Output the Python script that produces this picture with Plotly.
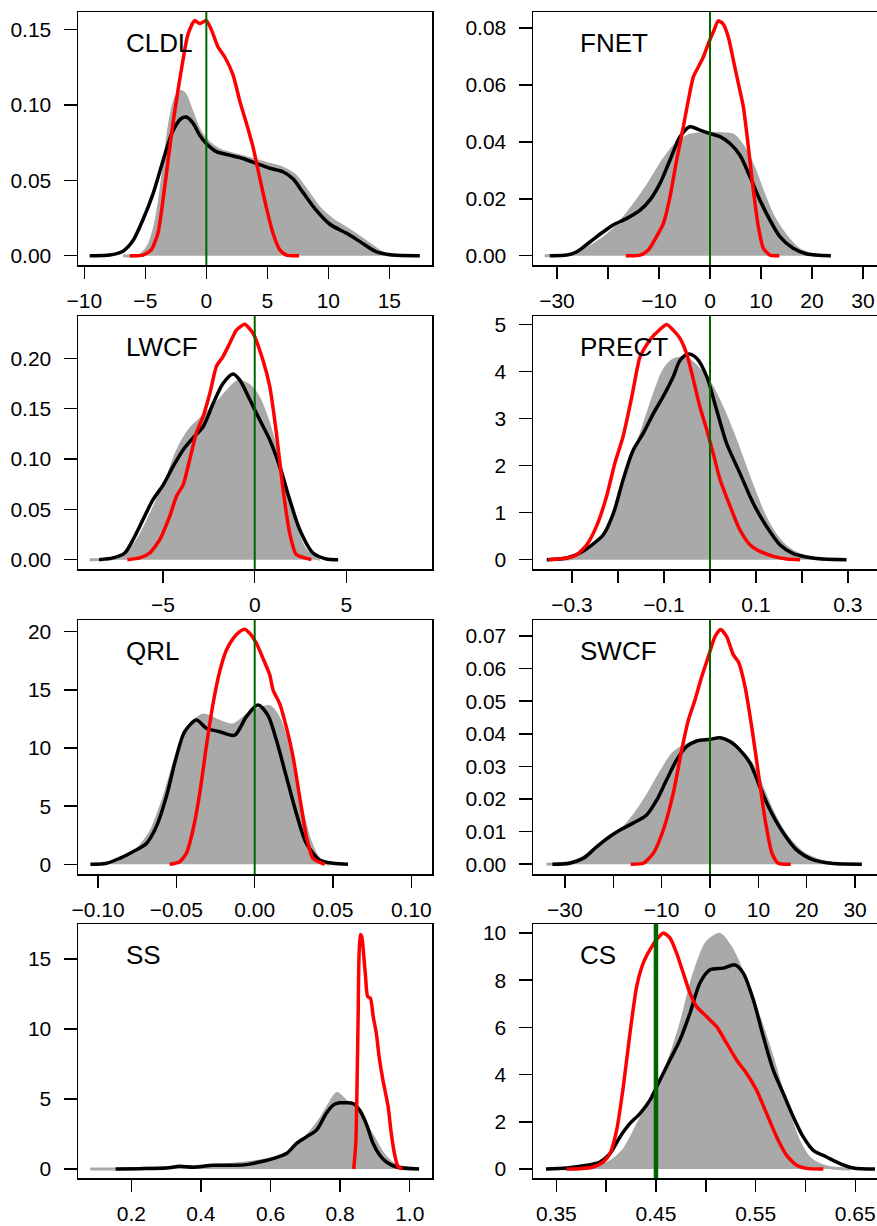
import plotly.graph_objects as go

# ---------------- data ----------------
panel_names = ["CLDL", "FNET", "LWCF", "PRECT", "QRL", "SWCF", "SS", "CS"]
ref_values = [0, 0, 0, 0, 0, 0, None, 0.45]

# CLDL
cldl_grey_x = [-6.83, -5.46, -4.78, -4.23, -3.83, -3.42, -3.0, -2.60, -2.19, -1.78, -1.23, -0.55, 0, 1.09, 2.19, 3.55, 4.92, 6.28, 7.24, 8.2, 9.29, 10.4, 11.7, 13.1, 14.5, 15.3]
cldl_grey_y = [0, 0.0004, 0.006, 0.019, 0.037, 0.063, 0.088, 0.103, 0.109, 0.1075, 0.0965, 0.083, 0.0767, 0.070, 0.0674, 0.0645, 0.0612, 0.058, 0.0535, 0.0435, 0.0314, 0.0236, 0.017, 0.0093, 0.0015, 0]
cldl_black_x = [-9.56, -7.92, -6.83, -6.01, -5.19, -4.37, -3.55, -2.73, -2.05, -1.64, -1.09, -0.55, 0, 0.82, 1.91, 3.0, 4.10, 5.19, 6.28, 7.10, 7.92, 9.02, 10.1, 11.5, 12.6, 13.9, 15.3, 17.5]
cldl_black_y = [0, 0.0004, 0.003, 0.010, 0.024, 0.041, 0.063, 0.083, 0.091, 0.092, 0.088, 0.080, 0.0744, 0.069, 0.0667, 0.0645, 0.0612, 0.058, 0.0557, 0.051, 0.042, 0.030, 0.021, 0.0148, 0.0093, 0.0027, 0.0004, 0]
cldl_red_x = [-6.28, -5.19, -4.5, -3.96, -3.55, -3.14, -2.73, -2.32, -1.91, -1.50, -0.96, -0.55, 0, 0.41, 0.96, 1.5, 2.19, 2.73, 3.28, 3.83, 4.37, 4.92, 5.46, 6.01, 6.56, 7.6]
cldl_red_y = [0, 0.0004, 0.004, 0.015, 0.037, 0.063, 0.088, 0.110, 0.130, 0.147, 0.156, 0.154, 0.156, 0.150, 0.1385, 0.132, 0.120, 0.103, 0.088, 0.072, 0.052, 0.032, 0.015, 0.004, 0.0004, 0]

# FNET
fnet_grey_x = [-32.4, -26.8, -22.9, -19.0, -15.7, -12.4, -9.15, -6.54, -3.92, -1.31, 1.96, 4.58, 6.54, 8.5, 10.46, 12.4, 15.0, 17.6, 20.9]
fnet_grey_y = [0, 0.0008, 0.0037, 0.009, 0.016, 0.0242, 0.0336, 0.0394, 0.0423, 0.0429, 0.0429, 0.0423, 0.0382, 0.0312, 0.0219, 0.0137, 0.0067, 0.002, 0]
fnet_black_x = [-31.4, -28.1, -26.1, -23.5, -20.9, -19.0, -16.3, -13.7, -11.8, -9.8, -7.84, -5.88, -3.92, -1.96, 0, 1.96, 3.92, 5.88, 7.84, 9.80, 11.76, 13.7, 16.3, 19.0, 23.7]
fnet_black_y = [0, 0.0002, 0.0014, 0.0049, 0.0084, 0.0108, 0.0131, 0.016, 0.0195, 0.0254, 0.0336, 0.0418, 0.0453, 0.0441, 0.0429, 0.0418, 0.0394, 0.0353, 0.0277, 0.0195, 0.0125, 0.0067, 0.0026, 0.0006, 0]
fnet_red_x = [-16.5, -13.7, -12.1, -10.5, -9.15, -7.84, -6.54, -5.23, -4.25, -3.27, -2.29, -1.31, -0.33, 0.65, 1.63, 2.61, 3.59, 4.58, 5.56, 6.54, 7.52, 8.50, 9.48, 10.46, 11.76, 13.6]
fnet_red_y = [0, 0.0002, 0.002, 0.0067, 0.0113, 0.0207, 0.0336, 0.0453, 0.0546, 0.0628, 0.0663, 0.0698, 0.0745, 0.0786, 0.0825, 0.0813, 0.0768, 0.0687, 0.0605, 0.0523, 0.0382, 0.0230, 0.0102, 0.0026, 0.0002, 0]

# LWCF
lwcf_grey_x = [-9.0, -7.73, -7.0, -6.27, -5.55, -4.82, -4.27, -3.55, -2.82, -2.09, -1.36, -0.91, -0.36, 0.18, 0.64, 1.18, 1.73, 2.27, 2.82, 3.55]
lwcf_grey_y = [0, 0.001, 0.005, 0.023, 0.0496, 0.079, 0.106, 0.129, 0.142, 0.155, 0.170, 0.177, 0.1736, 0.162, 0.142, 0.109, 0.0694, 0.0298, 0.0083, 0]
lwcf_black_x = [-8.49, -7.73, -7.09, -6.64, -6.09, -5.55, -5.0, -4.45, -3.91, -3.36, -2.82, -2.27, -1.73, -1.18, -0.82, -0.27, 0.27, 0.82, 1.36, 1.91, 2.45, 3.18, 3.91, 4.55]
lwcf_black_y = [0, 0.0017, 0.0066, 0.0198, 0.040, 0.0595, 0.074, 0.0926, 0.109, 0.121, 0.132, 0.155, 0.175, 0.1845, 0.1785, 0.159, 0.139, 0.119, 0.0926, 0.0595, 0.030, 0.0066, 0.0007, 0]
lwcf_red_x = [-6.95, -6.27, -5.73, -5.18, -4.64, -4.27, -3.91, -3.55, -3.18, -2.82, -2.45, -2.09, -1.73, -1.36, -1.0, -0.55, -0.09, 0.45, 0.82, 1.18, 1.55, 1.91, 2.27, 3.09]
lwcf_red_y = [0, 0.0017, 0.0066, 0.0198, 0.043, 0.063, 0.074, 0.099, 0.126, 0.142, 0.165, 0.192, 0.2017, 0.215, 0.228, 0.2337, 0.2248, 0.198, 0.172, 0.126, 0.069, 0.026, 0.005, 0]

# PRECT
prect_grey_x = [-0.348, -0.297, -0.261, -0.225, -0.189, -0.152, -0.123, -0.102, -0.080, -0.051, -0.029, 0.0, 0.029, 0.058, 0.087, 0.116, 0.145, 0.174, 0.210, 0.247]
prect_grey_y = [0, 0.035, 0.212, 0.636, 1.556, 2.617, 3.465, 3.996, 4.243, 4.28, 4.10, 3.75, 3.18, 2.475, 1.70, 0.99, 0.495, 0.212, 0.057, 0]
prect_black_x = [-0.355, -0.312, -0.283, -0.261, -0.232, -0.210, -0.189, -0.167, -0.145, -0.123, -0.102, -0.080, -0.065, -0.047, -0.029, -0.007, 0.0145, 0.036, 0.065, 0.094, 0.123, 0.152, 0.181, 0.210, 0.247, 0.297]
prect_black_y = [0, 0.035, 0.141, 0.283, 0.530, 0.99, 1.70, 2.33, 2.69, 3.11, 3.465, 3.89, 4.24, 4.37, 4.28, 3.89, 3.18, 2.475, 1.84, 1.20, 0.707, 0.318, 0.127, 0.057, 0.014, 0]
prect_red_x = [-0.352, -0.312, -0.290, -0.268, -0.247, -0.225, -0.207, -0.189, -0.170, -0.152, -0.131, -0.109, -0.094, -0.080, -0.065, -0.051, -0.036, -0.022, -0.007, 0.007, 0.022, 0.044, 0.065, 0.087, 0.109, 0.138, 0.167, 0.196]
prect_red_y = [0, 0.035, 0.106, 0.318, 0.707, 1.344, 2.051, 2.617, 3.465, 4.314, 4.668, 4.894, 5.0, 4.88, 4.70, 4.385, 3.82, 3.25, 2.76, 2.26, 1.70, 1.13, 0.636, 0.318, 0.177, 0.071, 0.014, 0]

# QRL
qrl_grey_x = [-0.1032, -0.0904, -0.0777, -0.067, -0.0585, -0.05, -0.0415, -0.033, -0.0245, -0.0138, -0.0032, 0.0096, 0.016, 0.0223, 0.0287, 0.0351, 0.0415, 0.0479]
qrl_grey_y = [0, 0.23, 0.95, 2.66, 5.53, 9.25, 11.83, 12.84, 12.4, 11.98, 12.98, 13.55, 12.4, 9.54, 5.53, 2.09, 0.37, 0]
qrl_black_x = [-0.1049, -0.0947, -0.0862, -0.0777, -0.0691, -0.0628, -0.0564, -0.05, -0.0447, -0.0372, -0.0309, -0.0223, -0.0128, -0.0053, 0.0021, 0.0085, 0.0138, 0.0202, 0.0266, 0.033, 0.0415, 0.05, 0.0596]
qrl_black_y = [0, 0.086, 0.52, 1.09, 1.8, 3.24, 5.82, 9.25, 11.4, 12.4, 11.7, 11.4, 11.1, 12.7, 13.7, 12.8, 10.7, 7.54, 4.38, 1.8, 0.37, 0.086, 0]
qrl_red_x = [-0.0543, -0.0479, -0.0436, -0.0394, -0.0351, -0.0309, -0.0266, -0.0223, -0.0181, -0.0138, -0.0096, -0.0064, -0.0032, 0.0011, 0.0053, 0.0096, 0.0117, 0.016, 0.0202, 0.0245, 0.0287, 0.033, 0.0372, 0.0447]
qrl_red_y = [0, 0.23, 0.95, 2.95, 6.1, 10.1, 13.8, 16.6, 18.4, 19.4, 20.0, 20.2, 19.86, 19.0, 17.7, 16.3, 15.0, 13.8, 11.8, 9.25, 5.8, 2.38, 0.52, 0]

# SWCF
swcf_grey_x = [-33.8, -28.3, -23.4, -19.3, -15.9, -13.1, -10.3, -7.59, -4.83, -2.07, 0.69, 2.76, 4.83, 6.9, 8.97, 11.0, 13.1, 15.9, 19.3, 23.4, 26.9]
swcf_grey_y = [0, 0.0008, 0.0044, 0.009, 0.0146, 0.0207, 0.0279, 0.034, 0.0366, 0.0373, 0.0376, 0.0378, 0.0366, 0.034, 0.0299, 0.0228, 0.0156, 0.0085, 0.0034, 0.0008, 0]
swcf_black_x = [-32.6, -29.0, -26.2, -23.4, -20.7, -18.6, -15.9, -13.1, -11.0, -8.97, -6.9, -4.83, -2.76, 0, 2.07, 4.14, 6.2, 8.28, 10.3, 12.4, 15.2, 17.9, 21.4, 25.5, 31.4]
swcf_black_y = [0, 0.0003, 0.0018, 0.0054, 0.0085, 0.0105, 0.0126, 0.0151, 0.0197, 0.0259, 0.032, 0.0361, 0.0378, 0.0383, 0.0388, 0.0376, 0.035, 0.031, 0.0238, 0.0167, 0.0095, 0.0044, 0.0013, 0.0002, 0]
swcf_red_x = [-16.4, -13.8, -11.7, -9.66, -7.59, -5.86, -4.48, -3.10, -1.72, -0.34, 1.03, 2.2, 3.45, 4.83, 5.86, 7.24, 8.62, 10.0, 11.4, 12.8, 14.1, 16.7]
swcf_red_y = [0, 0.0003, 0.0034, 0.0105, 0.0218, 0.035, 0.0442, 0.0504, 0.0575, 0.0637, 0.0698, 0.072, 0.0698, 0.0642, 0.0621, 0.0545, 0.0422, 0.0279, 0.0136, 0.0034, 0.0003, 0]

# SS
ss_grey_x = [0.082, 0.205, 0.301, 0.396, 0.492, 0.569, 0.626, 0.665, 0.703, 0.741, 0.770, 0.791, 0.813, 0.837, 0.866, 0.895, 0.923, 0.952, 0.990]
ss_grey_y = [0, 0.02, 0.1, 0.19, 0.33, 0.57, 0.9, 1.45, 2.29, 3.48, 4.67, 5.39, 4.91, 4.44, 3.48, 2.29, 1.1, 0.38, 0]
ss_black_x = [0.155, 0.224, 0.301, 0.339, 0.377, 0.435, 0.492, 0.531, 0.569, 0.607, 0.646, 0.674, 0.703, 0.732, 0.760, 0.780, 0.799, 0.818, 0.837, 0.856, 0.875, 0.895, 0.914, 0.933, 0.962, 1.027]
ss_black_y = [0, 0.024, 0.07, 0.19, 0.12, 0.26, 0.26, 0.31, 0.5, 0.74, 1.1, 1.81, 2.29, 2.77, 3.96, 4.56, 4.72, 4.72, 4.67, 4.2, 3.24, 1.81, 0.98, 0.5, 0.14, 0]
ss_red_x = [0.839, 0.845, 0.849, 0.852, 0.854, 0.858, 0.862, 0.868, 0.873, 0.879, 0.887, 0.895, 0.904, 0.912, 0.923, 0.938, 0.947, 0.957, 0.966, 0.979]
ss_red_y = [0, 1.81, 6.58, 11.35, 14.93, 16.72, 16.6, 15.17, 13.74, 12.3, 12.19, 10.88, 9.68, 8.01, 6.34, 4.44, 2.53, 0.98, 0.19, 0]

# CS
cs_grey_x = [0.357, 0.3838, 0.4005, 0.4172, 0.4339, 0.4473, 0.4607, 0.4741, 0.4875, 0.5008, 0.5142, 0.5243, 0.5343, 0.5443, 0.5543, 0.5644, 0.5744, 0.5844, 0.5945, 0.6045, 0.6212, 0.6447]
cs_grey_y = [0, 0.057, 0.23, 0.79, 2.07, 3.06, 4.33, 6.03, 8.16, 9.58, 9.94, 9.43, 8.58, 7.45, 6.32, 5.04, 3.63, 2.21, 1.08, 0.44, 0.085, 0]
cs_black_x = [0.3396, 0.3604, 0.3804, 0.3938, 0.4038, 0.4139, 0.4239, 0.4339, 0.4440, 0.4540, 0.4640, 0.4741, 0.4841, 0.4941, 0.5042, 0.5176, 0.5293, 0.5376, 0.5477, 0.5577, 0.5677, 0.5778, 0.5878, 0.5978, 0.6079, 0.6212, 0.6346, 0.6480, 0.6697]
cs_black_y = [0, 0.042, 0.16, 0.30, 0.65, 1.36, 1.93, 2.35, 2.92, 3.77, 4.62, 5.47, 6.60, 7.88, 8.44, 8.51, 8.65, 8.30, 7.17, 5.61, 4.19, 3.20, 2.21, 1.36, 0.79, 0.51, 0.23, 0.042, 0]
cs_red_x = [0.3604, 0.3737, 0.3871, 0.3972, 0.4038, 0.4105, 0.4172, 0.4239, 0.4306, 0.4373, 0.4440, 0.4507, 0.4574, 0.4640, 0.4707, 0.4774, 0.4841, 0.4908, 0.5008, 0.5109, 0.5209, 0.5309, 0.5410, 0.5510, 0.5610, 0.5711, 0.5811, 0.5911, 0.6012, 0.6179]
cs_red_y = [0, 0.014, 0.085, 0.30, 0.65, 1.64, 3.48, 5.75, 7.73, 8.73, 9.29, 9.72, 10.0, 9.79, 9.15, 8.30, 7.45, 6.88, 6.46, 6.03, 5.33, 4.62, 4.05, 3.34, 2.35, 1.36, 0.58, 0.16, 0.028, 0]

# tick values / labels
cldl_xt = [-10, -5, 0, 5, 10, 15]
cldl_xl = ["−10", "−5", "0", "5", "10", "15"]
cldl_yt = [0, 0.05, 0.10, 0.15]
cldl_yl = ["0.00", "0.05", "0.10", "0.15"]
fnet_xt = [-30, -20, -10, 0, 10, 20, 30]
fnet_xl = ["−30", "", "−10", "0", "10", "20", "30"]
fnet_yt = [0, 0.02, 0.04, 0.06, 0.08]
fnet_yl = ["0.00", "0.02", "0.04", "0.06", "0.08"]
lwcf_xt = [-5, 0, 5]
lwcf_xl = ["−5", "0", "5"]
lwcf_yt = [0, 0.05, 0.10, 0.15, 0.20]
lwcf_yl = ["0.00", "0.05", "0.10", "0.15", "0.20"]
prect_xt = [-0.3, -0.2, -0.1, 0, 0.1, 0.2, 0.3]
prect_xl = ["−0.3", "", "−0.1", "", "0.1", "", "0.3"]
prect_yt = [0, 1, 2, 3, 4, 5]
prect_yl = ["0", "1", "2", "3", "4", "5"]
qrl_xt = [-0.10, -0.05, 0, 0.05, 0.10]
qrl_xl = ["−0.10", "−0.05", "0.00", "0.05", "0.10"]
qrl_yt = [0, 5, 10, 15, 20]
qrl_yl = ["0", "5", "10", "15", "20"]
swcf_xt = [-30, -20, -10, 0, 10, 20, 30]
swcf_xl = ["−30", "", "−10", "0", "10", "20", "30"]
swcf_yt = [0, 0.01, 0.02, 0.03, 0.04, 0.05, 0.06, 0.07]
swcf_yl = ["0.00", "0.01", "0.02", "0.03", "0.04", "0.05", "0.06", "0.07"]
ss_xt = [0.2, 0.4, 0.6, 0.8, 1.0]
ss_xl = ["0.2", "0.4", "0.6", "0.8", "1.0"]
ss_yt = [0, 5, 10, 15]
ss_yl = ["0", "5", "10", "15"]
cs_xt = [0.35, 0.40, 0.45, 0.50, 0.55, 0.60, 0.65]
cs_xl = ["0.35", "", "0.45", "", "0.55", "", "0.65"]
cs_yt = [0, 2, 4, 6, 8, 10]
cs_yl = ["0", "2", "4", "6", "8", "10"]

# ---------------- assemble ----------------
series = [
    (cldl_grey_x, cldl_grey_y, cldl_black_x, cldl_black_y, cldl_red_x, cldl_red_y),
    (fnet_grey_x, fnet_grey_y, fnet_black_x, fnet_black_y, fnet_red_x, fnet_red_y),
    (lwcf_grey_x, lwcf_grey_y, lwcf_black_x, lwcf_black_y, lwcf_red_x, lwcf_red_y),
    (prect_grey_x, prect_grey_y, prect_black_x, prect_black_y, prect_red_x, prect_red_y),
    (qrl_grey_x, qrl_grey_y, qrl_black_x, qrl_black_y, qrl_red_x, qrl_red_y),
    (swcf_grey_x, swcf_grey_y, swcf_black_x, swcf_black_y, swcf_red_x, swcf_red_y),
    (ss_grey_x, ss_grey_y, ss_black_x, ss_black_y, ss_red_x, ss_red_y),
    (cs_grey_x, cs_grey_y, cs_black_x, cs_black_y, cs_red_x, cs_red_y),
]
ticks = [
    (cldl_xt, cldl_xl, cldl_yt, cldl_yl),
    (fnet_xt, fnet_xl, fnet_yt, fnet_yl),
    (lwcf_xt, lwcf_xl, lwcf_yt, lwcf_yl),
    (prect_xt, prect_xl, prect_yt, prect_yl),
    (qrl_xt, qrl_xl, qrl_yt, qrl_yl),
    (swcf_xt, swcf_xl, swcf_yt, swcf_yl),
    (ss_xt, ss_xl, ss_yt, ss_yl),
    (cs_xt, cs_xl, cs_yt, cs_yl),
]

# axis ranges (R-style plot regions; right column cut by page edge)
x_ranges = [[-10.52, 18.5], [-34.7, 32.74], [-9.64, 9.67], [-0.385, 0.3633],
            [-0.1128, 0.1132], [-36.6, 34.53], [0.0467, 1.064], [0.3266, 0.6718]]
y_ranges = [[-0.0062, 0.1617], [-0.00327, 0.0856], [-0.0093, 0.242], [-0.198, 5.18],
            [-0.83, 21.0], [-0.003, 0.0749], [-0.644, 17.48], [-0.38, 10.38]]

W, H = 877, 1226
col_dom = [[78 / W, 432 / W], [533 / W, 1.0]]
row_px = [(12, 265), (316, 569), (620, 874), (924, 1178)]
row_dom = [[1 - b / H, 1 - t / H] for t, b in row_px]

FONT = "Liberation Sans, Arial, Helvetica, sans-serif"
GREY = "#A9A9A9"

fig = go.Figure()
layout = dict(
    width=W, height=H, margin=dict(l=0, r=0, t=0, b=0, autoexpand=False),
    paper_bgcolor="white", plot_bgcolor="white", showlegend=False,
    font=dict(family=FONT, color="black"),
)
shapes = []
annotations = []
for i, name in enumerate(panel_names):
    r, c = divmod(i, 2)
    k = "" if i == 0 else str(i + 1)
    xa, ya = "x" + k, "y" + k
    gx, gy, bx, by, rx, ry = series[i]
    fig.add_trace(go.Scatter(x=gx, y=gy, mode="lines", fill="tozeroy", fillcolor=GREY,
                             line=dict(color=GREY, width=3, shape="spline", smoothing=0.8),
                             xaxis=xa, yaxis=ya, hoverinfo="skip"))
    fig.add_trace(go.Scatter(x=bx, y=by, mode="lines",
                             line=dict(color="black", width=3.5, shape="spline", smoothing=0.8),
                             xaxis=xa, yaxis=ya))
    fig.add_trace(go.Scatter(x=rx, y=ry, mode="lines",
                             line=dict(color="#FF0000", width=3.5, shape="spline", smoothing=0.6),
                             xaxis=xa, yaxis=ya))
    xt, xl, yt, yl = ticks[i]
    layout["xaxis" + k] = dict(
        domain=col_dom[c], anchor=ya, range=x_ranges[i], tickvals=xt, ticktext=xl,
        ticks="outside", ticklen=12, tickwidth=1.5, tickcolor="black",
        showline=True, linecolor="black", linewidth=1.5, mirror=True,
        showgrid=False, zeroline=False, ticklabelstandoff=4, automargin=False,
        tickfont=dict(size=21, family=FONT, color="black"), fixedrange=True)
    layout["yaxis" + k] = dict(
        domain=row_dom[r], anchor=xa, range=y_ranges[i], tickvals=yt, ticktext=yl,
        ticks="outside", ticklen=13, tickwidth=1.5, tickcolor="black",
        showline=True, linecolor="black", linewidth=1.5, mirror=(c == 0),
        showgrid=False, zeroline=False, ticklabelstandoff=8, automargin=False,
        tickfont=dict(size=21, family=FONT, color="black"), fixedrange=True)
    if ref_values[i] is not None:
        shapes.append(dict(type="line", xref=xa, yref=ya + " domain", x0=ref_values[i], x1=ref_values[i],
                           y0=0, y1=1, line=dict(color="#006400", width=4.5 if name == "CS" else 2),
                           layer="above"))
    annotations.append(dict(text=name, xref=xa + " domain", yref=ya + " domain",
                            x=46 / 354, y=1 - 31 / 253, xanchor="left", yanchor="middle",
                            showarrow=False, font=dict(size=26, family=FONT, color="black")))

layout["shapes"] = shapes
layout["annotations"] = annotations
fig.update_layout(**layout)
fig.write_html("out.html", config={"displayModeBar": False, "staticPlot": True},
               post_script="document.body.style.margin='0px';document.body.style.padding='0px';"
                           "document.body.style.overflow='hidden';")
